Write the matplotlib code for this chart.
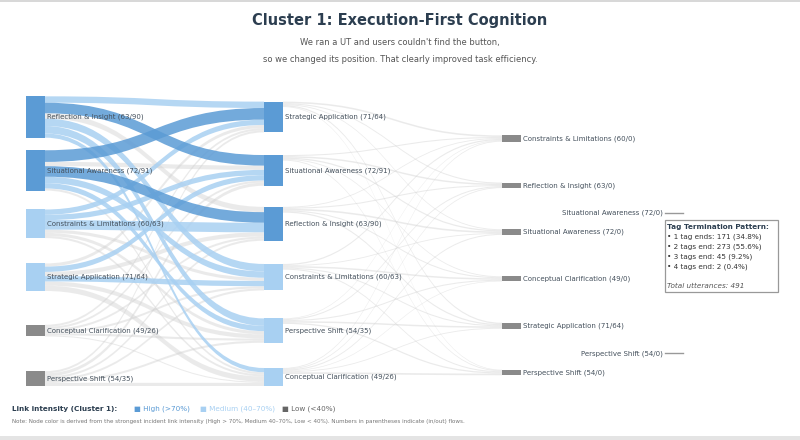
#!/usr/bin/env python3
import matplotlib.pyplot as plt
import numpy as np
from matplotlib.path import Path
from matplotlib.patches import PathPatch, Rectangle

title = "Cluster 1: Execution-First Cognition"
subtitle = ["We ran a UT and users couldn't find the button,",
            "so we changed its position. That clearly improved task efficiency."]

stage1 = ["Reflection & Insight (63/90)", "Situational Awareness (72/91)",
          "Constraints & Limitations (60/63)", "Strategic Application (71/64)",
          "Conceptual Clarification (49/26)", "Perspective Shift (54/35)"]
stage2 = ["Strategic Application (71/64)", "Situational Awareness (72/91)",
          "Reflection & Insight (63/90)", "Constraints & Limitations (60/63)",
          "Perspective Shift (54/35)", "Conceptual Clarification (49/26)"]
stage3 = ["Constraints & Limitations (60/0)", "Reflection & Insight (63/0)",
          "Situational Awareness (72/0)", "Conceptual Clarification (49/0)",
          "Strategic Application (71/64)", "Perspective Shift (54/0)"]
orphans = ["Situational Awareness (72/0)", "Perspective Shift (54/0)"]
orphan_near = [2, 5]  # stage3 node each zero-flow node sits above

# stage1 -> stage2 flows (rows: stage1, cols: stage2)
flow12 = [
    [6, 10, 5, 7, 7, 4],
    [11, 4, 10, 6, 5, 2],
    [5, 5, 9, 3, 3, 2],
    [3, 5, 4, 5, 4, 5],
    [2, 2, 2, 2, 2, 1],
    [2, 3, 2, 2, 2, 3],
]
# link intensity: H high, M medium, L low
level12 = ["MHLMMM",
           "HLHMML",
           "MMMLLL",
           "LMLMLL",
           "LLLLLL",
           "LLLLLL"]
# stage2 -> stage3 flows (all low)
flow23 = [
    [1.5, 1.0, 0.8, 0.0, 1.2, 0.6],
    [1.0, 1.4, 1.2, 0.8, 0.0, 0.8],
    [0.8, 1.0, 1.5, 1.0, 1.2, 0.0],
    [1.2, 0.0, 0.8, 1.4, 1.0, 1.0],
    [0.6, 1.0, 0.0, 1.0, 1.4, 1.2],
    [0.8, 0.8, 1.0, 0.6, 0.8, 1.6],
]

tag_lines = ["• 1 tag ends: 171 (34.8%)", "• 2 tags end: 273 (55.6%)",
             "• 3 tags end: 45 (9.2%)", "• 4 tags end: 2 (0.4%)"]
total_line = "Total utterances: 491"

HIGH = "#5b9bd5"
MED = "#a8d0f2"
LOWN = "#8a8a8a"
link_col = {"H": (HIGH, 0.85), "M": (MED, 0.85), "L": ("#cfcfcf", 0.42)}
node_col = {"H": HIGH, "M": MED, "L": LOWN}
rank = {"L": 0, "M": 1, "H": 2}
inv = {0: "L", 1: "M", 2: "H"}

fig = plt.figure(figsize=(8, 4.4), dpi=100)
ax = fig.add_axes([0, 0, 1, 1])
ax.set_xlim(0, 800)
ax.set_ylim(440, 0)
ax.axis("off")

scale = 1.06
col_x = [26, 264, 502]
node_w = 19
bottom = 386

f12 = np.array(flow12, float) * scale
f23 = np.array(flow23, float) * scale
lv23 = [["L"] * 6 for _ in range(6)]

h1 = f12.sum(axis=1)
h2 = np.maximum(f12.sum(axis=0), f23.sum(axis=1))
h3 = f23.sum(axis=0)


def centers(h, top, last):
    c = np.linspace(top, last, len(h))
    return np.minimum(c, bottom - h / 2)


c1 = centers(h1, 117, 384)
c2 = centers(h2, 117, 384)
c3 = centers(h3, 138.5, 372.5)
cent = [c1, c2, c3]
tops = [c1 - h1 / 2, c2 - h2 / 2, c3 - h3 / 2]

# build links: outgoing ordered by target y, incoming ordered by source y
links = []
for stage, (F, L) in enumerate([(f12, level12), (f23, lv23)]):
    n_s, n_t = F.shape
    s_off = tops[stage].copy()
    t_off = tops[stage + 1].copy()
    s_start = {}
    for i in range(n_s):
        for j in np.argsort(cent[stage + 1]):
            if F[i, j] > 0:
                s_start[(i, j)] = s_off[i]
                s_off[i] += F[i, j]
    for j in range(n_t):
        for i in np.argsort(cent[stage]):
            if F[i, j] > 0:
                links.append((stage, i, j, s_start[(i, j)], t_off[j], F[i, j], L[i][j]))
                t_off[j] += F[i, j]

for lev in "LMH":
    for stage, i, j, ys, yt, w, l in links:
        if l != lev:
            continue
        color, alpha = link_col[l]
        xs = col_x[stage] + node_w
        xt = col_x[stage + 1]
        xm = (xs + xt) / 2
        verts = [(xs, ys), (xm, ys), (xm, yt), (xt, yt), (xt, yt + w),
                 (xm, yt + w), (xm, ys + w), (xs, ys + w), (xs, ys)]
        codes = [Path.MOVETO, Path.CURVE4, Path.CURVE4, Path.CURVE4, Path.LINETO,
                 Path.CURVE4, Path.CURVE4, Path.CURVE4, Path.CLOSEPOLY]
        ax.add_patch(PathPatch(Path(verts, codes), facecolor=color, alpha=alpha,
                               edgecolor="none", zorder=1 + rank[l]))

# node colour = strongest incident link
strength = [[0] * 6, [0] * 6, [0] * 6]
for stage, i, j, ys, yt, w, l in links:
    strength[stage][i] = max(strength[stage][i], rank[l])
    strength[stage + 1][j] = max(strength[stage + 1][j], rank[l])

label_col = "#44505c"
for k, (names, h, c) in enumerate([(stage1, h1, c1), (stage2, h2, c2), (stage3, h3, c3)]):
    for n in range(6):
        ax.add_patch(Rectangle((col_x[k], c[n] - h[n] / 2), node_w, h[n],
                               facecolor=node_col[inv[strength[k][n]]],
                               edgecolor="none", zorder=5))
        ax.text(col_x[k] + node_w + 2, c[n], names[n], fontsize=5, color=label_col,
                va="center", ha="left", zorder=6)

# zero-flow nodes, drawn as short ticks
for name, near in zip(orphans, orphan_near):
    yy = c3[near] - 19
    ax.plot([665, 683], [yy, yy], color="#999999", lw=1, zorder=9)
    ax.text(663, yy, name, fontsize=5, color=label_col, va="center", ha="right", zorder=9)

# termination pattern box
ax.add_patch(Rectangle((665, 220), 113, 72, facecolor="white",
                       edgecolor="#999999", lw=0.9, zorder=7))
ax.text(667, 227, "Tag Termination Pattern:", fontsize=5.2, fontweight="bold",
        color="#2c3e50", va="center", zorder=8)
for k, t in enumerate(tag_lines):
    ax.text(667, 237 + k * 9.8, t, fontsize=5.2, color="#333333", va="center", zorder=8)
ax.text(667, 286, total_line, fontsize=5.2, style="italic", color="#555555",
        va="center", zorder=8)

# titles
ax.text(400, 20, title, fontsize=10.5, fontweight="bold", color="#2c3e50",
        ha="center", va="center")
ax.text(400, 43, subtitle[0], fontsize=6, color="#555555", ha="center", va="center")
ax.text(400, 60, subtitle[1], fontsize=6, color="#555555", ha="center", va="center")

# bottom legend
ax.text(12, 409, "Link intensity (Cluster 1):", fontsize=5.2, fontweight="bold",
        color="#2c3e50", va="center")
ax.text(134, 409, "■ High (>70%)", fontsize=5.2, color=HIGH, va="center")
ax.text(200, 409, "■ Medium (40–70%)", fontsize=5.2, color=MED, va="center")
ax.text(282, 409, "■ Low (<40%)", fontsize=5.2, color="#666666", va="center")
ax.text(12, 421, "Note: Node color is derived from the strongest incident link intensity "
        "(High > 70%, Medium 40–70%, Low < 40%). Numbers in parentheses indicate (in/out) flows.",
        fontsize=4.1, color="#777777", va="center")

# screenshot edges
ax.add_patch(Rectangle((0, 0), 800, 2, facecolor="#d8d8d8", edgecolor="none"))
ax.add_patch(Rectangle((0, 436), 800, 4, facecolor="#e4e4e4", edgecolor="none"))

fig.savefig("out.png", dpi=100)
